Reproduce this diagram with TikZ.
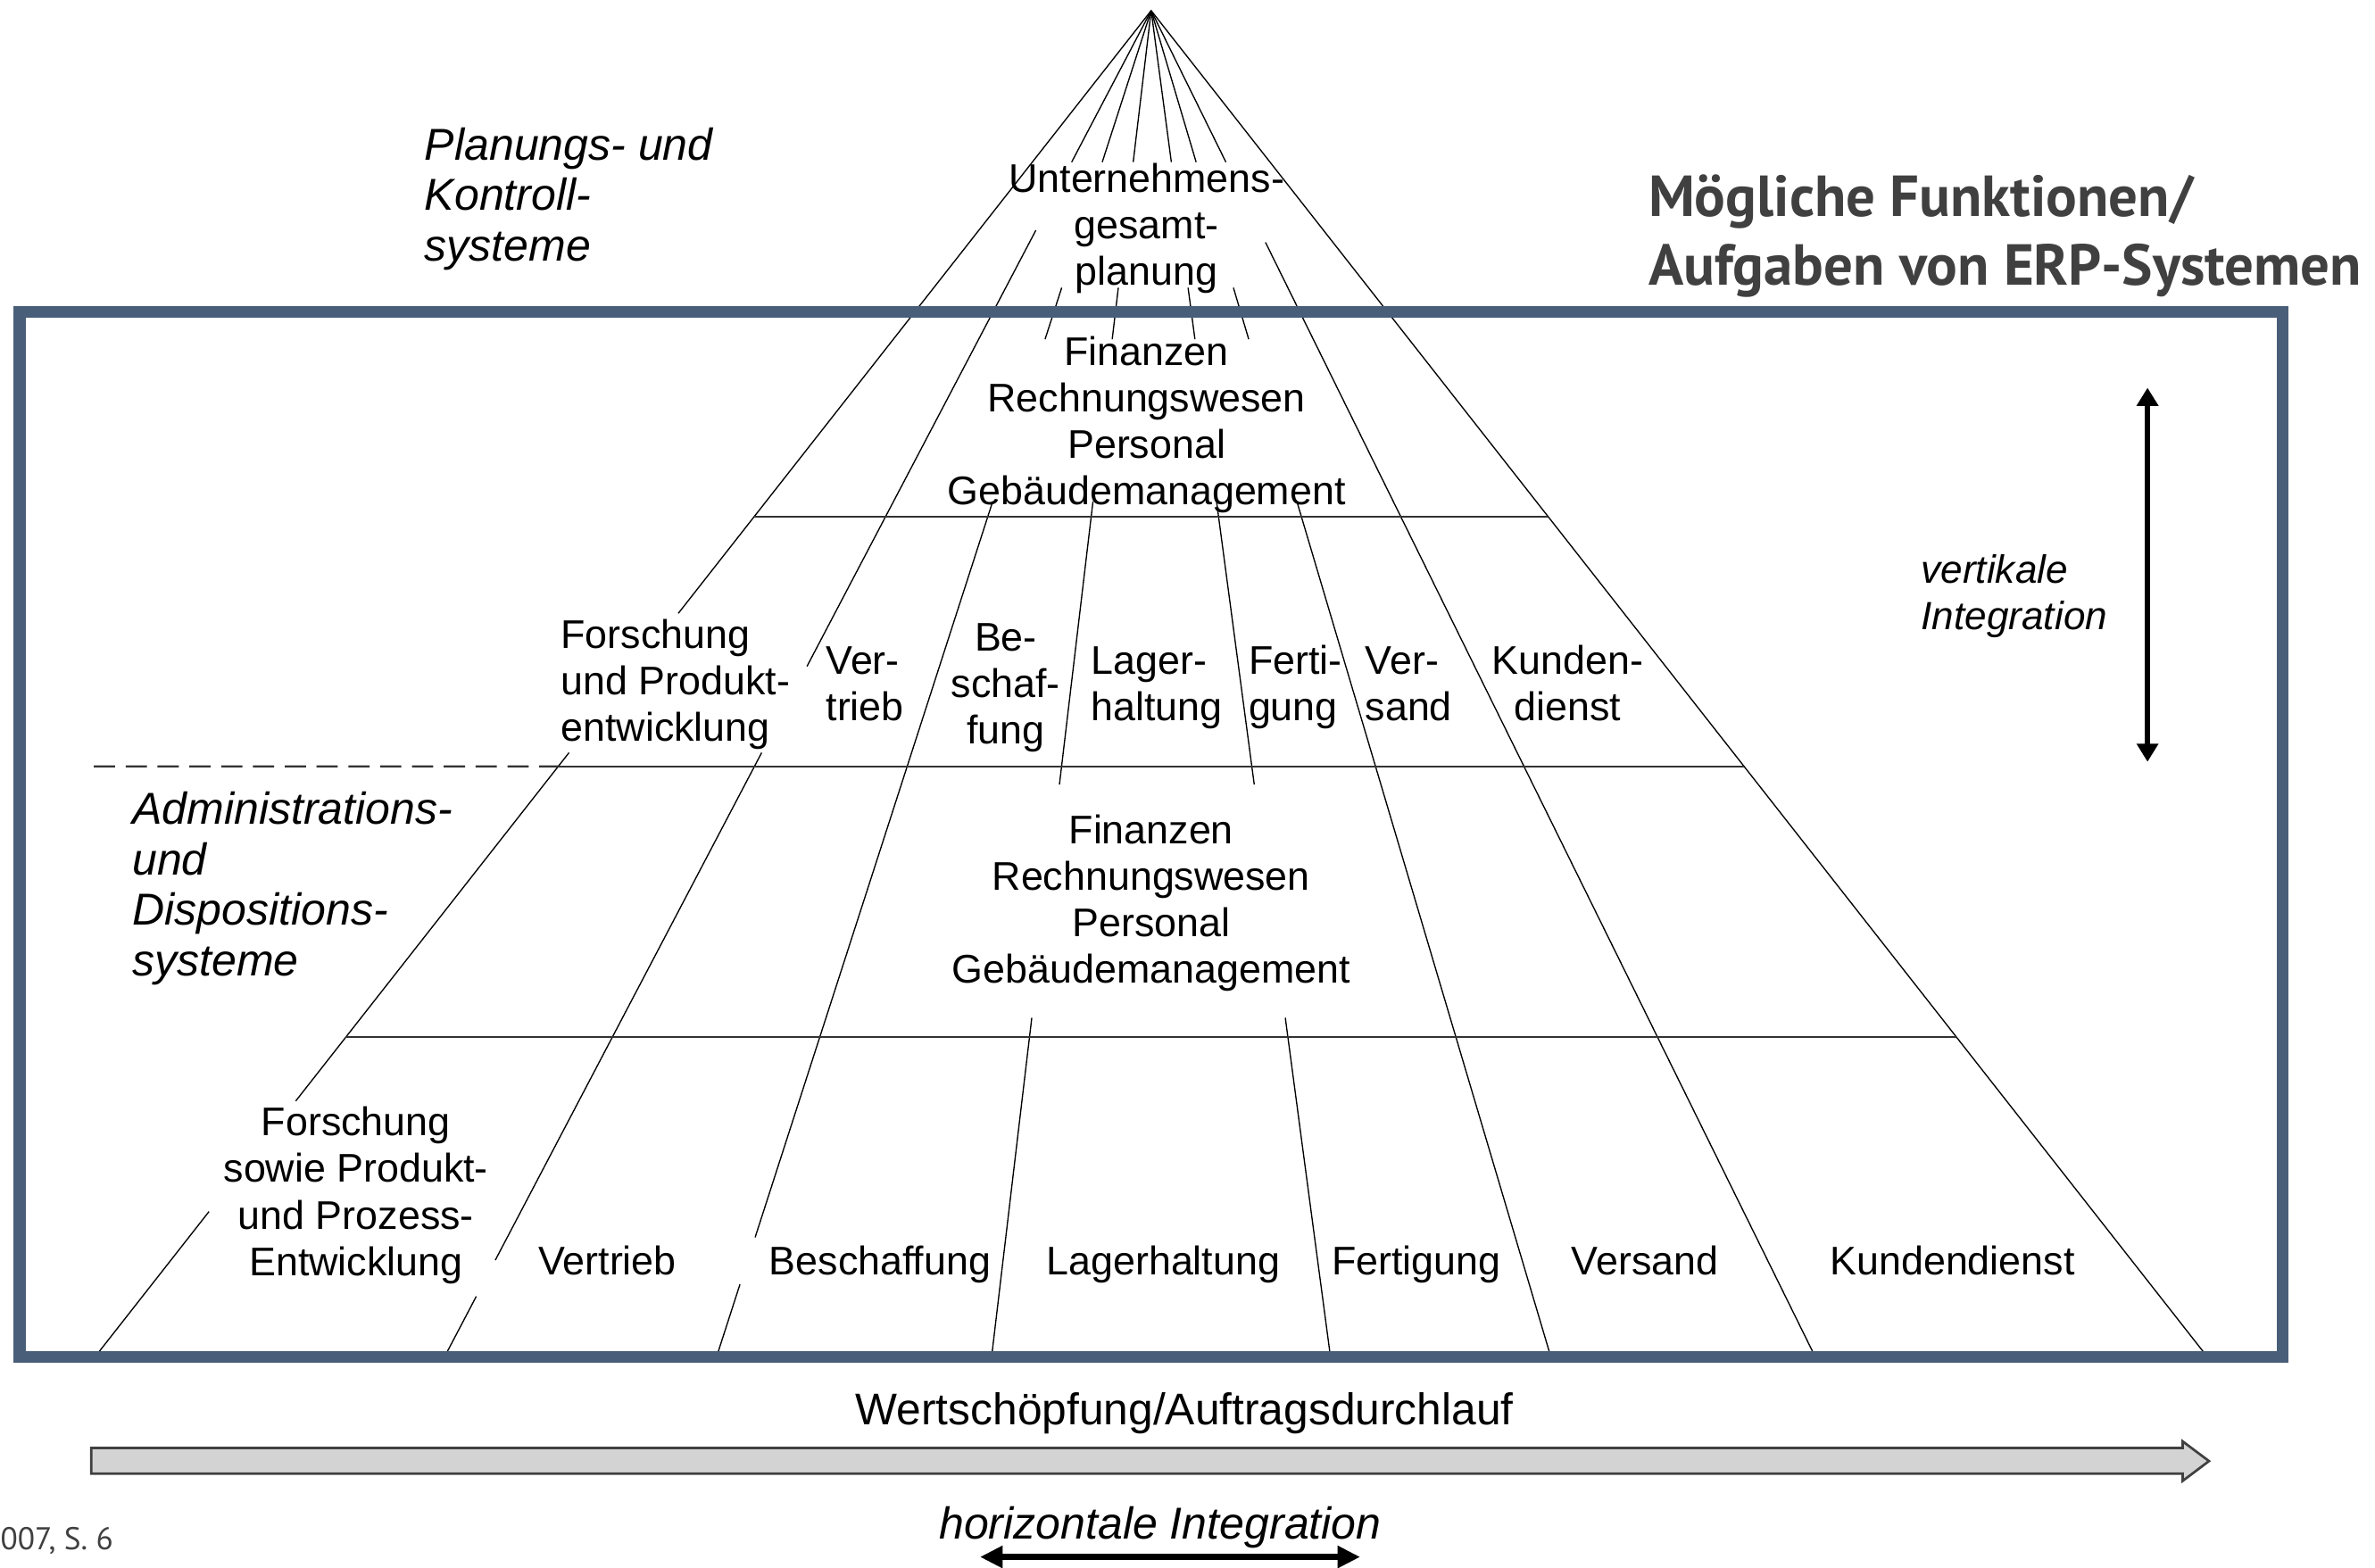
\documentclass[tikz,border=0pt]{standalone}
\usepackage{fontspec}
\setmainfont{Liberation Sans}
\newfontfamily\headfont{PT Sans}
\usetikzlibrary{calc,arrows.meta}

\definecolor{framecol}{RGB}{73,94,120}
\definecolor{headcol}{RGB}{64,64,64}
\definecolor{barfill}{RGB}{211,211,211}
\definecolor{bardraw}{RGB}{64,64,64}
\definecolor{rulecol}{RGB}{50,50,50}

% stacked lines whose baseline is the baseline of the first line
\newcommand\stackC[1]{\begin{tabular}[t]{@{}c@{}}#1\end{tabular}}
\newcommand\stackL[1]{\begin{tabular}[t]{@{}l@{}}#1\end{tabular}}

\tikzset{
  pyr/.style={line width=0.4pt, black},
  divider/.style={line width=0.6pt, rulecol},
  lbl/.style={inner sep=0pt, font=\fontsize{13.2}{15.35}\selectfont},
  lvl/.style={inner sep=0pt, font=\fontsize{14.75}{16.75}\selectfont\itshape},
  integ/.style={inner sep=0pt, font=\fontsize{13}{15.5}\selectfont\itshape},
  dblarrow/.style={black, {Triangle[width=6.9pt,length=6pt]}-{Triangle[width=6.9pt,length=6pt]}},
}

\begin{document}
\begin{tikzpicture}[x=0.5pt, y=-0.5pt]
\useasboundingbox (0,0) rectangle (1568,1035);

% apex and foot points of the pyramid rays
\coordinate (apex) at (760,7);
\coordinate (b1) at (65,893);
\coordinate (b2) at (295,893);
\coordinate (b3) at (474,893);
\coordinate (b4) at (655,893);
\coordinate (b5) at (878,893);
\coordinate (b6) at (1023,893);
\coordinate (b7) at (1197,893);
\coordinate (b8) at (1455,893);

% rays, interrupted where labels sit
\draw[pyr] (apex) -- ($(apex)!0.4492!(b1)$)
           ($(apex)!0.5530!(b1)$) -- ($(apex)!0.8126!(b1)$)
           ($(apex)!0.8950!(b1)$) -- (b1);
\draw[pyr] (apex) -- ($(apex)!0.1129!(b2)$)
           ($(apex)!0.1637!(b2)$) -- ($(apex)!0.4887!(b2)$)
           ($(apex)!0.5530!(b2)$) -- ($(apex)!0.9312!(b2)$)
           ($(apex)!0.9582!(b2)$) -- (b2);
\draw[pyr] (apex) -- ($(apex)!0.1129!(b3)$)
           ($(apex)!0.2065!(b3)$) -- ($(apex)!0.2449!(b3)$)
           ($(apex)!0.3657!(b3)$) -- ($(apex)!0.9142!(b3)$)
           ($(apex)!0.9492!(b3)$) -- (b3);
\draw[pyr] (apex) -- ($(apex)!0.1129!(b4)$)
           ($(apex)!0.2065!(b4)$) -- ($(apex)!0.2449!(b4)$)
           ($(apex)!0.3657!(b4)$) -- ($(apex)!0.5767!(b4)$)
           ($(apex)!0.7506!(b4)$) -- (b4);
\draw[pyr] (apex) -- ($(apex)!0.1129!(b5)$)
           ($(apex)!0.2065!(b5)$) -- ($(apex)!0.2449!(b5)$)
           ($(apex)!0.3657!(b5)$) -- ($(apex)!0.5767!(b5)$)
           ($(apex)!0.7506!(b5)$) -- (b5);
\draw[pyr] (apex) -- ($(apex)!0.1129!(b6)$)
           ($(apex)!0.2065!(b6)$) -- ($(apex)!0.2449!(b6)$)
           ($(apex)!0.3657!(b6)$) -- (b6);
\draw[pyr] (apex) -- ($(apex)!0.1129!(b7)$)
           ($(apex)!0.1727!(b7)$) -- (b7);
\draw[pyr] (apex) -- (b8);

% horizontal layer dividers
\draw[divider] ($(apex)!0.3770!(b1)$) -- ($(apex)!0.3770!(b8)$);
\coordinate (dashstart) at (62,506);
\draw[divider, dash pattern=on 7pt off 3.5pt] (dashstart) -- ($(apex)!0.5632!(b1)$);
\draw[divider] ($(apex)!0.5632!(b1)$) -- ($(apex)!0.5632!(b8)$);
\draw[divider] ($(apex)!0.7652!(b1)$) -- ($(apex)!0.7652!(b8)$);

% ERP frame
\draw[framecol, line width=3.9pt] (13,206) rectangle (1507,896);

% title
\node[inner sep=0pt, anchor=base west, text=headcol,
      font=\headfont\bfseries\fontsize{19.1}{22.5}\selectfont] (title) at (1088,143)
  {\stackL{Mögliche Funktionen/\\Aufgaben von ERP-Systemen}};

% level names
\node[lvl, anchor=base west] (plan) at (280,105.5)
  {\stackL{Planungs- und\\Kontroll-\\systeme}};
\node[lvl, anchor=base west] (admin) at (87,544)
  {\stackL{Administrations-\\und\\Dispositions-\\systeme}};

% top of the pyramid
\node[lbl, anchor=base] (ugp) at (757,127) {\stackC{Unternehmens-\\gesamt-\\planung}};
\node[lbl, anchor=base] (fin1) at (757,241)
  {\stackC{Finanzen\\Rechnungswesen\\Personal\\Gebäudemanagement}};

% middle row
\node[lbl, anchor=base west] (fue1) at (370,428) {\stackL{Forschung\\und Produkt-\\entwicklung}};
\node[lbl, anchor=base west] (ver1) at (545,445) {\stackL{Ver-\\trieb}};
\node[lbl, anchor=base] (bes1) at (664,430) {\stackC{Be-\\schaf-\\fung}};
\node[lbl, anchor=base west] (lag1) at (720,445) {\stackL{Lager-\\haltung}};
\node[lbl, anchor=base west] (fer1) at (824,445) {\stackL{Ferti-\\gung}};
\node[lbl, anchor=base west] (vsd1) at (901,445) {\stackL{Ver-\\sand}};
\node[lbl, anchor=base] (kun1) at (1035,445) {\stackC{Kunden-\\dienst}};

% lower cross-functional block
\node[lbl, anchor=base] (fin2) at (760,557)
  {\stackC{Finanzen\\Rechnungswesen\\Personal\\Gebäudemanagement}};

% bottom row
\node[lbl, anchor=base] (fue2) at (235,750)
  {\stackC{Forschung\\sowie Produkt-\\und Prozess-\\Entwicklung}};
\node[lbl, anchor=base] (ver2) at (401,842) {Vertrieb};
\node[lbl, anchor=base] (bes2) at (581,842) {Beschaffung};
\node[lbl, anchor=base] (lag2) at (768,842) {Lagerhaltung};
\node[lbl, anchor=base] (fer2) at (935,842) {Fertigung};
\node[lbl, anchor=base] (vsd2) at (1086,842) {Versand};
\node[lbl, anchor=base] (kun2) at (1289,842) {Kundendienst};

% vertical integration
\node[integ, anchor=base west] (vint) at (1268,385) {\stackL{vertikale\\Integration}};
\coordinate (vtop) at (1417.8,256);
\coordinate (vbot) at (1417.8,503);
\draw[dblarrow, line width=1.75pt] (vtop) -- (vbot);

% value chain arrow
\node[inner sep=0pt, anchor=base, font=\fontsize{14.65}{17}\selectfont] (wert) at (782,941)
  {Wertschöpfung/Auftragsdurchlauf};
\draw[fill=barfill, draw=bardraw, line width=0.8pt, line join=miter]
  (60.3,956) -- (1441,956) -- (1441,951.7) -- (1458.4,964.7) -- (1441,977.8)
  -- (1441,973) -- (60.3,973) -- cycle;

% horizontal integration
\node[lvl, anchor=base] (hint) at (766,1016) {horizontale Integration};
\coordinate (hleft) at (647,1028);
\coordinate (hright) at (898,1028);
\draw[black, line width=2pt, {Triangle[width=7pt,length=7.5pt]}-{Triangle[width=7pt,length=7.5pt]}] (hleft) -- (hright);

% source note
\node[inner sep=0pt, anchor=base west, text=headcol, font=\headfont\fontsize{10.4}{12}\selectfont] (src) at (0,1023) {007, S. 6};
\end{tikzpicture}
\end{document}
